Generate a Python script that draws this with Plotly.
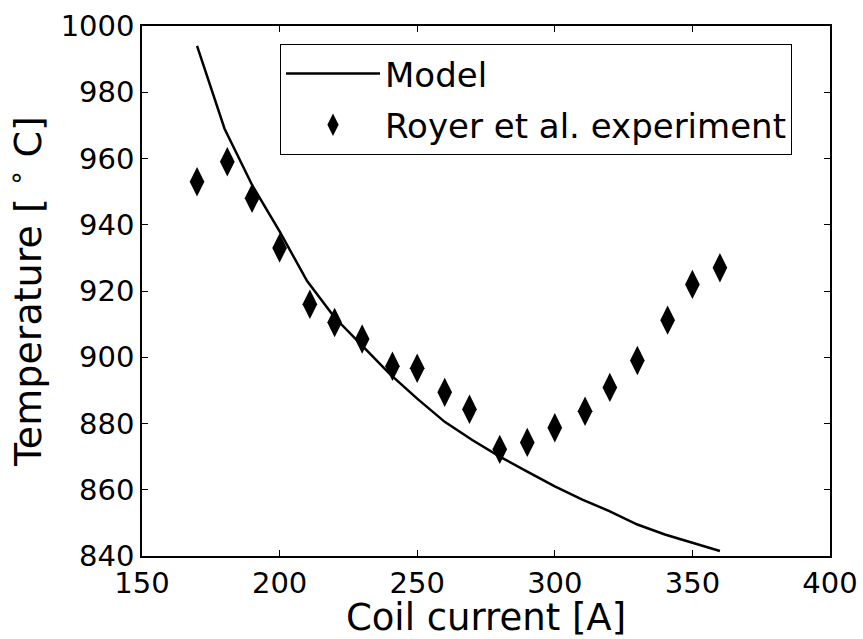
import plotly.graph_objects as go

model_x = [170, 180, 190, 200, 210, 220, 230, 240, 250, 260, 270, 280, 290, 300, 310, 320, 330, 340, 350, 360]
model_y = [994, 969, 952, 938, 923, 912, 903.5, 895, 887.5, 880.5, 875, 870, 865.5, 861, 857, 853.5, 849.5, 846.5, 844, 841.5]

exp_x = [170, 181, 190, 200, 211, 220, 230, 241, 250, 260, 269, 280, 290, 300, 311, 320, 330, 341, 350, 360]
exp_y = [953, 959, 948, 933, 916, 910.5, 905.5, 897.3, 896.7, 889.4, 884.3, 872.2, 874.3, 878.7, 883.7, 890.9, 899, 911.2, 922, 927]

x_ticks = [150, 200, 250, 300, 350, 400]
y_ticks = [840, 860, 880, 900, 920, 940, 960, 980, 1000]

FONT = "DejaVu Sans"

fig = go.Figure()
fig.add_trace(go.Scatter(x=model_x, y=model_y, mode="lines", name="Model", legendgroup="a",
                         line=dict(color="black", width=2.5)))
fig.add_trace(go.Scatter(x=exp_x, y=exp_y, mode="markers", name="Royer et al. experiment", legendgroup="b",
                         marker=dict(symbol="diamond-tall", size=21, color="black")))

axis_common = dict(showgrid=False, zeroline=False, ticks="inside", ticklen=6, tickwidth=1,
                   tickcolor="black", showline=True, linecolor="black", linewidth=1.5,
                   mirror="allticks", automargin=False,
                   tickfont=dict(family=FONT, size=29, color="black"))

fig.update_xaxes(range=[150, 400], tickvals=x_ticks, ticktext=[str(v) for v in x_ticks],
                 title=dict(text="Coil current [A]", font=dict(family=FONT, size=37, color="black"), standoff=8),
                 **axis_common)
fig.update_yaxes(range=[840, 1000], tickvals=y_ticks, ticktext=[str(v) for v in y_ticks],
                 title=dict(text="Temperature [ <sup>∘</sup> C]", font=dict(family=FONT, size=38, color="black"), standoff=8),
                 **axis_common)

fig.update_layout(
    width=863, height=639,
    margin=dict(l=142, r=33, t=26, b=83, autoexpand=False),
    plot_bgcolor="white", paper_bgcolor="white",
    font=dict(family=FONT, color="black"),
    legend=dict(x=0.2006, y=0.966, xanchor="left", yanchor="top",
                bordercolor="black", borderwidth=1, bgcolor="white",
                font=dict(family=FONT, size=34, color="black"),
                tracegroupgap=4, itemwidth=94),
)

fig.write_html("out.html")
